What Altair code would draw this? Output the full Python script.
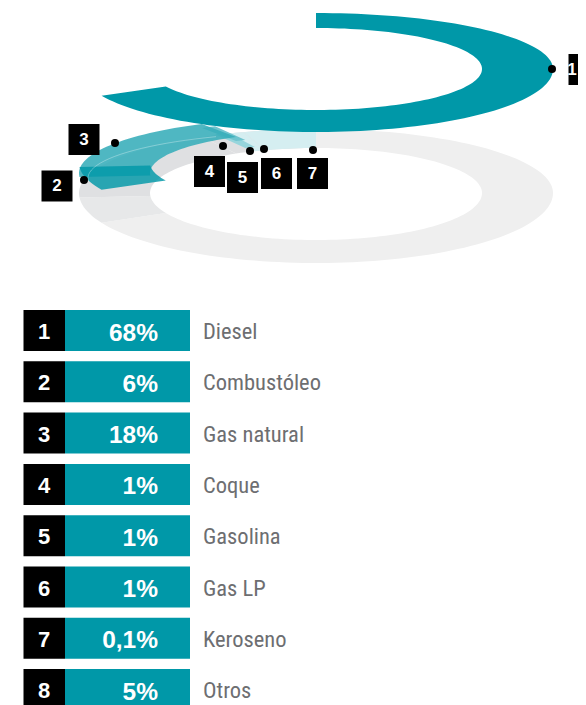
import math
import altair as alt
import pandas as pd

# ---- chart values ----
numbers = [1, 2, 3, 4, 5, 6, 7, 8]
shares = [68, 6, 18, 1, 1, 1, 0.1, 5]
share_labels = ["68%", "6%", "18%", "1%", "1%", "1%", "0,1%", "5%"]
fuels = ["Diesel", "Combustóleo", "Gas natural", "Coque", "Gasolina", "Gas LP", "Keroseno", "Otros"]
callout_numbers = [1, 2, 3, 4, 5, 6, 7]

# ---- layout (page pixels) ----
W, H = 578, 705
M = 8
CX = 316
TEAL = "#0098A8"
lift = [69, 163, 173, 177, 185, 193, 193, 193]
slice_style = [
    (TEAL, 1.0), ("#0097A7", 0.82), ("#37ADBA", 0.88), ("#6FC4CE", 1.0),
    ("#97D5DC", 1.0), ("#D5EEF1", 1.0), ("#D5EEF1", 1.0), ("#D5EEF1", 1.0),
]
draw_order = [5, 6, 7, 4, 3, 0, 2, 1]
dots_x = [552, 84, 115, 223, 250, 264, 313]
dots_y = [69, 180, 143, 146, 151, 149, 150]
badge_x = [584, 57, 84, 209.5, 242.5, 276.5, 312.5]
badge_y = [69.5, 186, 139.5, 171.5, 177.5, 173.5, 173.5]
badge_text_x = [572, 57, 84, 209.5, 242.5, 276.5, 312.5]
ROW0, ROWSTEP, ROWH = 310, 51.3, 41

x_scale = alt.Scale(domain=[M, W], range=[0, W - M], nice=False, zero=False)
y_scale = alt.Scale(domain=[M, H], range=[0, H - M], nice=False, zero=False, clamp=True)
X = lambda f="x": alt.X(f"{f}:Q", scale=x_scale, axis=None)
Y = lambda f="y": alt.Y(f"{f}:Q", scale=y_scale, axis=None)


def ring_slice(a0, a1, cy, rx_o, rt_o, rb_o, rx_i, rt_i, rb_i):
    n = max(2, int((a1 - a0) / 2) + 2)
    angles = [a0 + (a1 - a0) * k / (n - 1) for k in range(n)]
    def pt(a, rx, rt, rb):
        t = math.radians(a)
        c = math.cos(t)
        return CX + rx * math.sin(t), cy - (rt if c > 0 else rb) * c
    pts = [pt(a, rx_o, rt_o, rb_o) for a in angles] + [pt(a, rx_i, rt_i, rb_i) for a in reversed(angles)]
    pts.append(pts[0])
    return pd.DataFrame({"x": [p[0] for p in pts], "y": [p[1] for p in pts], "o": range(len(pts))})


def poly(df, color, opacity=1.0):
    return alt.Chart(df).mark_line(fill=color, fillOpacity=opacity, strokeWidth=0, strokeOpacity=0, clip=True).encode(
        x=X(), y=Y(), order="o:Q"
    )


edges = [0]
for s in shares:
    edges.append(min(360, edges[-1] + s * 3.6))

TEAL_R = (237, 56, 63, 166, 41, 41)
GRAY_R = (237, 64, 70, 166, 45, 47)

layers = []
layers.append(poly(ring_slice(0, edges[1], 193, *GRAY_R), "#EFEFEF"))
layers.append(poly(ring_slice(edges[1], edges[2], 193, *GRAY_R), "#E7E8E9"))
layers.append(poly(ring_slice(edges[2], edges[3], 193, *GRAY_R), "#DFE0E2"))
layers.append(poly(ring_slice(edges[3], 360, 193, *GRAY_R), "#DFE0E2"))
for i in draw_order:
    c, op = slice_style[i]
    r = GRAY_R if lift[i] == 193 else TEAL_R
    layers.append(poly(ring_slice(edges[i], edges[i + 1], lift[i], *r), c, op))

arc_angles = list(range(265, 336, 3))
arc = pd.DataFrame({
    "x": [CX + 228 * math.sin(math.radians(a)) for a in arc_angles],
    "y": [178 - 46 * math.cos(math.radians(a)) for a in arc_angles],
    "o": range(len(arc_angles)),
})
layers.append(alt.Chart(arc).mark_line(color="#FFFFFF", strokeWidth=0.7, opacity=0.45).encode(x=X(), y=Y(), order="o:Q"))

call = pd.DataFrame({"n": callout_numbers, "dx": dots_x, "dy": dots_y, "bx": badge_x, "by": badge_y, "tx": badge_text_x})
layers.append(alt.Chart(call).mark_square(size=31 * 31, color="#000000", opacity=1, clip=True).encode(x=X("bx"), y=Y("by")))
layers.append(alt.Chart(call).mark_circle(size=64, color="#000000", opacity=1).encode(x=X("dx"), y=Y("dy")))
layers.append(alt.Chart(call).mark_text(font="Liberation Sans", fontWeight="bold", fontSize=17, color="#FFFFFF", baseline="middle", align="center").encode(
    x=X("tx"), y=Y("by"), text="n:N"))

rows = pd.DataFrame({"n": numbers, "share": shares, "pct": share_labels, "fuel": fuels})
rows["top"] = [ROW0 + ROWSTEP * i for i in range(len(rows))]
rows["bot"] = rows["top"] + ROWH
rows["mid"] = rows["top"] + ROWH / 2 + 1.5
rows["midp"] = rows["mid"] + 1.5
rows["x0"], rows["x1"], rows["x2"], rows["xn"], rows["xp"], rows["xl"] = 23.5, 65, 190, 44, 158, 203

layers.append(alt.Chart(rows).mark_rect(color="#000000", clip=True).encode(x=X("x0"), x2="x1:Q", y=Y("top"), y2="bot:Q"))
layers.append(alt.Chart(rows).mark_rect(color=TEAL, clip=True).encode(x=X("x1"), x2="x2:Q", y=Y("top"), y2="bot:Q"))
layers.append(alt.Chart(rows).mark_text(font="Liberation Sans", fontWeight="bold", fontSize=22, color="#FFFFFF", baseline="middle", align="center").encode(
    x=X("xn"), y=Y("mid"), text="n:N"))
layers.append(alt.Chart(rows).mark_text(font="Liberation Sans", fontWeight="bold", fontSize=24.5, color="#FFFFFF", baseline="middle", align="right").encode(
    x=X("xp"), y=Y("midp"), text="pct:N"))
layers.append(alt.Chart(rows).mark_text(font="Roboto Condensed, DejaVu Sans Condensed, Roboto", fontSize=22.5, color="#6D6E71", baseline="middle", align="left").encode(
    x=X("xl"), y=Y("mid"), text="fuel:N"))

chart = alt.layer(*layers).properties(
    width=W - M, height=H - M, padding=0, autosize=alt.AutoSizeParams(type="none")
).configure_view(stroke=None)

chart.save("out.html", embed_options={"renderer": "svg", "actions": False})
